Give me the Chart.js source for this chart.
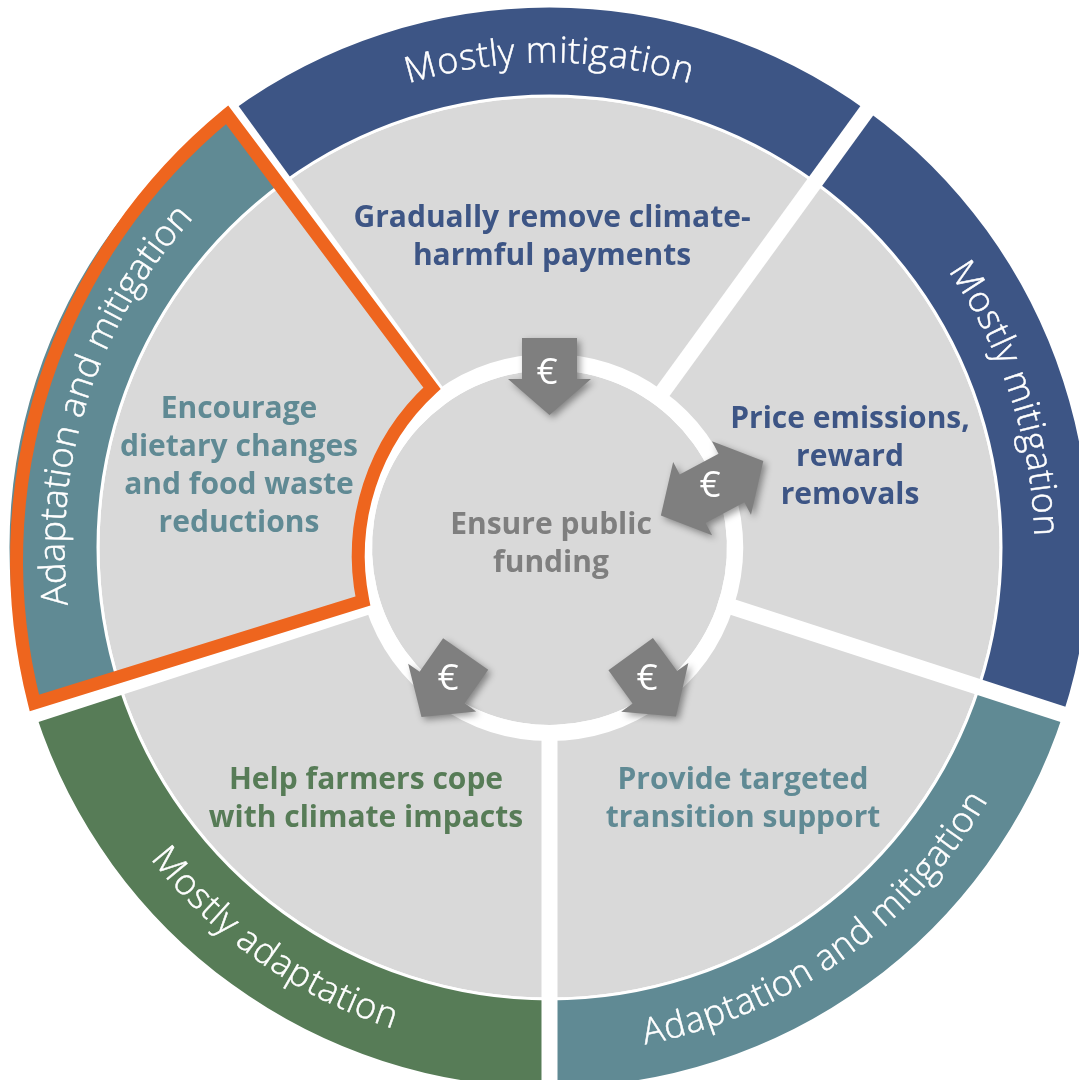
<!DOCTYPE html>
<html>
<head>
<meta charset="utf-8">
<title>Climate policy wheel</title>
<script src="https://cdn.jsdelivr.net/npm/chart.js@4"></script>
<style>
  html, body { margin: 0; padding: 0; background: #fff; overflow: hidden; }
  #wrap { width: 1079px; height: 1080px; overflow: hidden; }
  canvas { display: block; }
</style>
</head>
<body>
<div id="wrap"><canvas id="wheel"></canvas></div>
<script>
// five equal policy sectors, clockwise starting with the top one
var sectorShares = [1, 1, 1, 1, 1];
var sectorLabels = [
  ["Gradually remove climate-", "harmful payments"],
  ["Price emissions,", "reward", "removals"],
  ["Provide targeted", "transition support"],
  ["Help farmers cope", "with climate impacts"],
  ["Encourage", "dietary changes", "and food waste", "reductions"]
];
var ringLabels = ["Mostly mitigation", "Mostly mitigation", "Adaptation and mitigation", "Mostly adaptation", "Adaptation and mitigation"];
var centreLabel = ["Ensure public", "funding"];
var euroSign = "€";

var blue = "#3d5585", teal = "#608a94", green = "#577c57", grey = "#7f7f7f", orange = "#ee651e";
var ringColors = [blue, blue, teal, green, teal];
var highlighted = 4;

function polar(arc, r, a) {
  return [arc.x + r * Math.cos(a), arc.y + r * Math.sin(a)];
}

function drawSpokes(ctx, outer, mid) {
  ctx.strokeStyle = "#fff";
  ctx.lineWidth = 16;
  outer.forEach(function (arc, i) {
    var a = polar(arc, mid[i].innerRadius - 4, arc.startAngle);
    var b = polar(arc, arc.outerRadius + 4, arc.startAngle);
    ctx.beginPath();
    ctx.moveTo(a[0], a[1]);
    ctx.lineTo(b[0], b[1]);
    ctx.stroke();
  });
}

// the outline is flatter than the ring, so its two arcs have their own centres
function drawHighlight(ctx, arc) {
  var ox = arc.x + 44, oy = arc.y + 13;
  var ix = arc.x + 35.8, iy = arc.y + 8.2;
  ctx.beginPath();
  ctx.arc(ox, oy, 577, Math.atan2(142.5, -559.5), Math.atan2(-445.5, -366.2));
  ctx.arc(ix, iy, 227, Math.atan2(-167.7, -153.6), Math.atan2(45.3, -222.8), true);
  ctx.closePath();
  ctx.strokeStyle = orange;
  ctx.lineWidth = 13;
  ctx.lineJoin = "miter";
  ctx.miterLimit = 4;
  ctx.stroke();
}

// block arrows round the centre disc: [angle from top, distance, turn, two heads, euro dx, euro dy]
var arrowSpots = [
  [0, 171, 0, false, -2.5, -3.5],
  [70, 173, 62, true, -2, -2],
  [143, 172.5, -36, false, -6.3, -6],
  [217.5, 174, 35, false, 4.4, -6]
];

function drawArrow(ctx, arc, spot) {
  var a = (spot[0] - 90) * Math.PI / 180;
  var p = polar(arc, spot[1], a);
  ctx.save();
  ctx.translate(p[0], p[1]);
  ctx.save();
  ctx.rotate(spot[2] * Math.PI / 180);
  var pts;
  if (spot[3]) {
    pts = [[-27.5, -22], [-41.5, -22], [0, -58], [41.5, -22], [27.5, -22], [27.5, 22], [41.5, 22], [0, 58], [-41.5, 22], [-27.5, 22]];
  } else {
    pts = [[-27.5, -38.5], [27.5, -38.5], [27.5, 2.5], [41.5, 2.5], [0, 38.5], [-41.5, 2.5], [-27.5, 2.5]];
  }
  ctx.beginPath();
  pts.forEach(function (pt, i) {
    if (i == 0) { ctx.moveTo(pt[0], pt[1]); } else { ctx.lineTo(pt[0], pt[1]); }
  });
  ctx.closePath();
  ctx.shadowColor = "rgba(0,0,0,0.4)";
  ctx.shadowBlur = 7;
  ctx.shadowOffsetX = 3;
  ctx.shadowOffsetY = 3;
  ctx.fillStyle = grey;
  ctx.fill();
  ctx.restore();
  ctx.fillStyle = "#fff";
  ctx.font = "37px 'Open Sans'";
  ctx.textAlign = "center";
  ctx.textBaseline = "middle";
  ctx.fillText(euroSign, spot[4], spot[5]);
  ctx.restore();
}

// one glyph at a time along a circle
function drawCurved(ctx, arc, text, r, centre, inward, spread) {
  ctx.save();
  ctx.font = "300 36px 'Open Sans'";
  ctx.fillStyle = "#fff";
  ctx.strokeStyle = "#fff";
  ctx.lineWidth = 0.5;
  ctx.textAlign = "left";
  ctx.textBaseline = "alphabetic";
  var total = ctx.measureText(text).width * spread;
  for (var i = 0; i < text.length; i++) {
    var before = ctx.measureText(text.slice(0, i)).width * spread;
    var w = ctx.measureText(text[i]).width;
    var s = before + w / 2 - total / 2;
    var a, turn;
    if (inward) {
      a = centre + s / r;
      turn = a;
    } else {
      a = centre - s / r;
      turn = a - Math.PI;
    }
    var p = polar(arc, r, a - Math.PI / 2);
    ctx.save();
    ctx.translate(p[0], p[1]);
    ctx.rotate(turn);
    ctx.fillText(text[i], -w / 2, 0);
    ctx.strokeText(text[i], -w / 2, 0);
    ctx.restore();
  }
  ctx.restore();
}

function drawBlock(ctx, lines, x, y, color) {
  ctx.fillStyle = color;
  ctx.font = "bold 30px 'Open Sans'";
  ctx.textAlign = "center";
  ctx.textBaseline = "middle";
  lines.forEach(function (line, i) {
    ctx.fillText(line, x, y + i * 38);
  });
}

var wheelDecor = {
  id: "wheelDecor",
  afterDatasetsDraw: function (chart) {
    var ctx = chart.ctx;
    var outer = chart.getDatasetMeta(0).data;
    var mid = chart.getDatasetMeta(2).data;
    var core = chart.getDatasetMeta(4).data[0];
    ctx.save();
    drawSpokes(ctx, outer, mid);
    drawHighlight(ctx, outer[highlighted]);
    arrowSpots.forEach(function (spot) { drawArrow(ctx, core, spot); });

    var D = Math.PI / 180;
    drawCurved(ctx, core, ringLabels[0], 485, 0, true, 1.04);
    drawCurved(ctx, core, ringLabels[1], 485, 72 * D, true, 1.03);
    drawCurved(ctx, core, ringLabels[2], 506, 144.5 * D, false, 1.04);
    drawCurved(ctx, core, ringLabels[3], 506, 215 * D, false, 1.04);
    drawCurved(ctx, core, ringLabels[4], 485, 288 * D, true, 1.005);

    drawBlock(ctx, sectorLabels[0], 552, 218, blue);
    drawBlock(ctx, sectorLabels[1], 850, 419, blue);
    drawBlock(ctx, sectorLabels[2], 743, 780, teal);
    drawBlock(ctx, sectorLabels[3], 366, 780, green);
    drawBlock(ctx, sectorLabels[4], 239, 409, teal);
    drawBlock(ctx, centreLabel, 551, 525, grey);
    ctx.restore();
  }
};

var canvas = document.getElementById("wheel");
canvas.width = 1099;
canvas.height = 1095;
canvas.style.width = "1099px";
canvas.style.height = "1095px";

var wheel = new Chart(canvas, {
  type: "doughnut",
  data: {
    labels: ringLabels,
    datasets: [
      { data: sectorShares, backgroundColor: ringColors, weight: 87 },
      { data: sectorShares, backgroundColor: "#fff", weight: 3 },
      { data: sectorShares, backgroundColor: "#d9d9d9", weight: 256.5 },
      { data: [1], backgroundColor: "#fff", weight: 16 },
      { data: [1], backgroundColor: "#d9d9d9", weight: 177.5 }
    ]
  },
  options: {
    responsive: false,
    animation: false,
    rotation: -36,
    radius: 540,
    cutout: 0,
    borderWidth: 0,
    events: [],
    plugins: { legend: { display: false }, tooltip: { enabled: false } }
  },
  plugins: [wheelDecor]
});
</script>
</body>
</html>
